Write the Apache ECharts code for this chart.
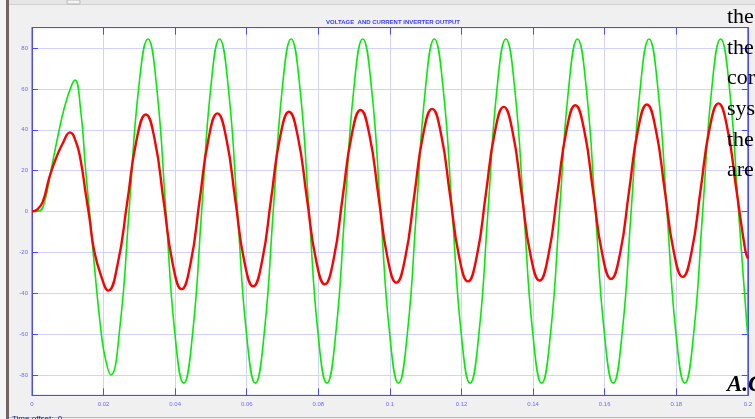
<!DOCTYPE html>
<html>
<head>
<meta charset="utf-8">
<script src="https://cdn.jsdelivr.net/npm/echarts@6/dist/echarts.min.js"></script>
<style>
html,body{margin:0;padding:0;background:#f0f0f0;}
#c{width:755px;height:419px;}
</style>
</head>
<body>
<div id="c"></div>
<script>
// ---- data ----
const chartTitle = 'VOLTAGE  AND CURRENT INVERTER OUTPUT';
const xTicks = [0, 0.02, 0.04, 0.06, 0.08, 0.1, 0.12, 0.14, 0.16, 0.18, 0.2];
const yTicks = [-80, -60, -40, -20, 0, 20, 40, 60, 80];

// voltage (green)
const greenT = [0,0.0021,0.0035,0.0053,0.0072,0.009,0.0109,0.012,0.0136,0.015,0.0162,0.0174,0.0193,0.0205,0.022,
 0.0246,0.0272,0.0298,0.0324,0.0349,0.0374,0.0399,0.0424,
 0.0449,0.0474,0.0499,0.0524,0.0549,0.0574,0.0599,0.0624,
 0.0649,0.0674,0.0699,0.0724,0.0749,0.0774,0.0799,0.0824,
 0.0849,0.0874,0.0899,0.0924,0.0949,0.0974,0.0999,0.1024,
 0.1049,0.1074,0.1099,0.1124,0.1149,0.1174,0.1199,0.1224,
 0.1249,0.1274,0.1299,0.1324,0.1349,0.1374,0.1399,0.1424,
 0.1449,0.1474,0.1499,0.1524,0.1549,0.1574,0.1599,0.1624,
 0.1649,0.1674,0.1699,0.1724,0.1749,0.1774,0.1799,0.1824,
 0.1849,0.1874,0.1899,0.1924,0.1949,0.1974,0.1999,0.2];
const greenV = [0,0.3,4.7,20,36.6,50.5,61,64.3,49.6,20,-2.5,-26,-58.8,-72,-80,
 -55.9,2.2,60.3,84.4,59.7,0.2,-59.3,-84,
 -59.3,0.2,59.7,84.4,59.7,0.2,-59.3,-84,
 -59.3,0.2,59.7,84.4,59.7,0.2,-59.3,-84,
 -59.3,0.2,59.7,84.4,59.7,0.2,-59.3,-84,
 -59.3,0.2,59.7,84.4,59.7,0.2,-59.3,-84,
 -59.3,0.2,59.7,84.4,59.7,0.2,-59.3,-84,
 -59.3,0.2,59.7,84.4,59.7,0.2,-59.3,-84,
 -59.3,0.2,59.7,84.4,59.7,0.2,-59.3,-84,
 -59.3,0.2,59.7,84.4,59.7,0.2,-59.3,-60];

// current (red)
const redT = [0,0.0015,0.003,0.0049,0.0067,0.0086,0.0106,0.0123,0.0136,0.015,0.016,0.0174,0.0193,0.0213,
 0.0239,0.0266,0.0292,0.0318,0.0343,0.0368,0.0393,0.0418,
 0.0443,0.0468,0.0493,0.0518,0.0543,0.0568,0.0593,0.0618,
 0.0643,0.0668,0.0693,0.0718,0.0743,0.0768,0.0793,0.0818,
 0.0843,0.0868,0.0893,0.0918,0.0943,0.0968,0.0993,0.1018,
 0.1043,0.1068,0.1093,0.1118,0.1143,0.1168,0.1193,0.1218,
 0.1243,0.1268,0.1293,0.1318,0.1343,0.1368,0.1393,0.1418,
 0.1443,0.1468,0.1493,0.1518,0.1543,0.1568,0.1593,0.1618,
 0.1643,0.1668,0.1693,0.1718,0.1743,0.1768,0.1793,0.1818,
 0.1843,0.1868,0.1893,0.1918,0.1943,0.1968,0.1993,0.2];
const redV = [0,1.0,4.7,17,26,33.4,38.7,34,25,8.9,-2.5,-19.5,-31.5,-38.7,
 -26.1,4.4,34.9,47.5,35.0,4.8,-25.5,-38.0,
 -25.4,5.0,35.4,48.0,35.6,5.7,-24.2,-36.6,
 -24.1,6.1,36.3,48.8,36.4,6.6,-23.2,-35.6,
 -23.1,7.1,37.2,49.7,37.3,7.5,-22.4,-34.8,
 -22.4,7.7,37.8,50.2,37.8,8.0,-21.8,-34.2,
 -21.7,8.5,38.7,51.2,38.8,8.7,-21.4,-33.8,
 -21.2,9.1,39.4,52.0,39.6,9.5,-20.6,-33.0,
 -20.5,9.7,39.9,52.4,40.0,10.2,-19.6,-32.0,
 -19.6,10.5,40.5,52.9,40.5,10.7,-19.1,-23];

// overlapping document text on the right
const docLines = ['the', 'the', 'cor', 'sys', 'the', 'are'];
const docBottom = 'A.C';
const statusText = 'Time offset:  0';

// ---- build ----
const pairs = (t, v) => t.map((x, i) => [x, v[i]]);
const axisBlue = '#4a4aff';
const labelBlue = '#6a6aff';
const gridLav = '#d2d2ff';

const docGraphics = docLines.map((s, i) => ({
  type: 'text', z: 100, x: 727, y: 28.5 + 30.6 * i,
  style: { text: s, fill: '#000', font: '22px "Liberation Serif", "DejaVu Serif", serif', textVerticalAlign: 'bottom' }
}));

const chart = echarts.init(document.getElementById('c'), null, { renderer: 'canvas' });
chart.setOption({
  animation: false,
  backgroundColor: '#f0f0f0',
  grid: { left: 32, right: 1, top: 27.6, bottom: 23.6, show: true, backgroundColor: '#ffffff', borderColor: axisBlue, borderWidth: 1 },
  xAxis: [{
    type: 'value', min: xTicks[0], max: xTicks[xTicks.length - 1], interval: 0.02, position: 'bottom',
    axisLine: { show: true, onZero: false, lineStyle: { color: axisBlue, width: 1 } },
    axisTick: { show: true, inside: true, length: 7, lineStyle: { color: axisBlue, width: 1 } },
    axisLabel: { fontSize: 6, color: labelBlue, margin: 6, fontFamily: 'Liberation Sans, Arial, sans-serif' },
    splitLine: { show: true, lineStyle: { color: gridLav, width: 1 } }
  }, {
    type: 'value', min: xTicks[0], max: xTicks[xTicks.length - 1], interval: 0.02, position: 'top',
    axisLine: { show: true, onZero: false, lineStyle: { color: axisBlue, width: 1 } },
    axisTick: { show: true, inside: true, length: 7, lineStyle: { color: axisBlue, width: 1 } },
    axisLabel: { show: false }, splitLine: { show: false }
  }],
  yAxis: [{
    type: 'value', min: -90, max: 90, position: 'left',
    axisLine: { show: true, onZero: false, lineStyle: { color: axisBlue, width: 1 } },
    axisTick: { show: true, inside: true, length: 6, customValues: yTicks, lineStyle: { color: axisBlue, width: 1 } },
    axisLabel: { customValues: yTicks, fontSize: 6, color: labelBlue, margin: 4, fontFamily: 'Liberation Sans, Arial, sans-serif' },
    splitLine: { show: true, lineStyle: { color: gridLav, width: 1 } }
  }, {
    type: 'value', min: -90, max: 90, position: 'right',
    axisLine: { show: true, onZero: false, lineStyle: { color: axisBlue, width: 1 } },
    axisTick: { show: true, inside: true, length: 6, customValues: yTicks, lineStyle: { color: axisBlue, width: 1 } },
    axisLabel: { show: false, customValues: yTicks }, splitLine: { show: false }
  }],
  series: [{
    name: 'Voltage', type: 'line', xAxisIndex: 0, yAxisIndex: 0, data: pairs(greenT, greenV),
    showSymbol: false, smooth: 0.5, z: 3,
    lineStyle: { color: '#00ee00', width: 1.6 }
  }, {
    name: 'Current', type: 'line', xAxisIndex: 0, yAxisIndex: 0, data: pairs(redT, redV),
    showSymbol: false, smooth: 0.5, z: 4,
    lineStyle: { color: '#ff0000', width: 2.4 }
  }],
  graphic: [
    { type: 'rect', z: 0, shape: { x: 0, y: 0, width: 6, height: 419 }, style: { fill: '#f6f6f6' } },
    { type: 'rect', z: 0, shape: { x: 6, y: 0, width: 3, height: 419 }, style: { fill: '#6e6664' } },
    { type: 'rect', z: 0, shape: { x: 9, y: 0, width: 746, height: 4 }, style: { fill: '#e6e6e6' } },
    { type: 'line', z: 0, shape: { x1: 9, y1: 4.5, x2: 755, y2: 4.5 }, style: { stroke: '#d0d0d0', lineWidth: 1 } },
    { type: 'rect', z: 0, shape: { x: 67, y: 0, width: 13, height: 4, r: 1 }, style: { fill: '#f4f4f4', stroke: '#aaaaaa', lineWidth: 0.8 } },
    { type: 'line', z: 0, shape: { x1: 9, y1: 417.5, x2: 755, y2: 417.5 }, style: { stroke: '#b8b8b8', lineWidth: 1 } },
    { type: 'text', z: 50, x: 393, y: 22, style: { text: chartTitle, fill: '#3a3aff', font: 'bold 6px "Liberation Sans", Arial, sans-serif', textAlign: 'center', textVerticalAlign: 'middle' } },
    { type: 'text', z: 50, x: 12, y: 415, style: { text: statusText, fill: '#1c2c8c', font: '8px "Liberation Sans", Arial, sans-serif', textVerticalAlign: 'top' } },
    ...docGraphics,
    { type: 'text', z: 100, x: 727, y: 397, style: { text: docBottom, fill: '#000', font: 'italic bold 23px "Liberation Serif", "DejaVu Serif", serif', textVerticalAlign: 'bottom' } }
  ]
});
</script>
</body>
</html>
